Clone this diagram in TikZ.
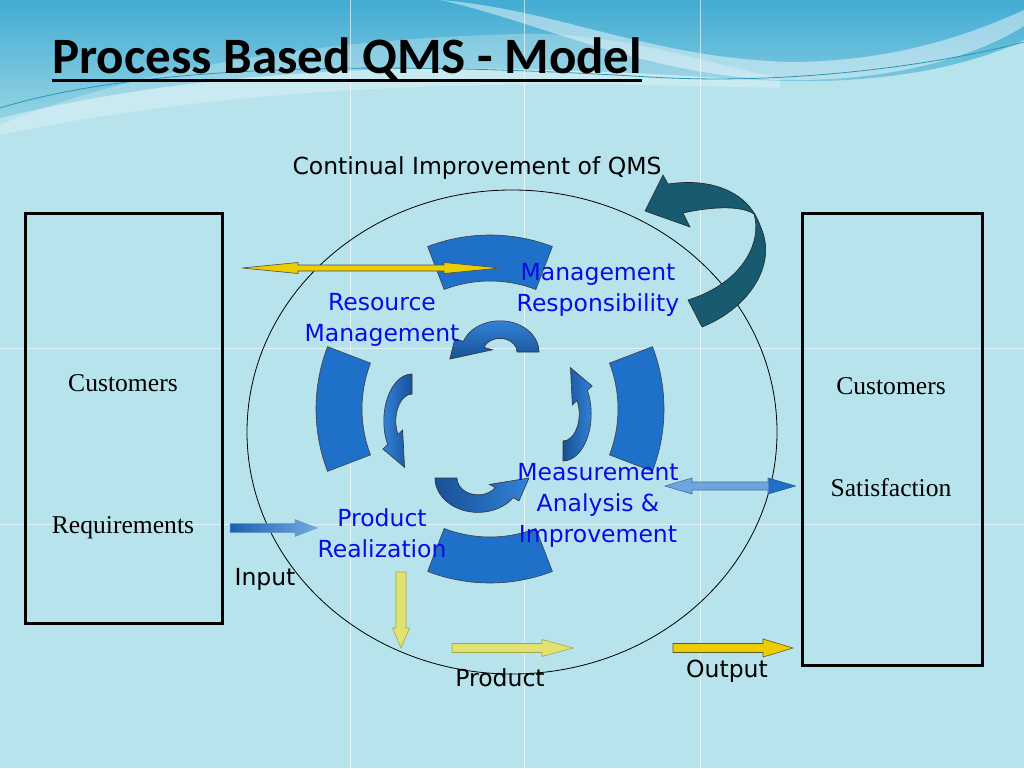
\documentclass[tikz,border=0pt]{standalone}
\usepackage{fontspec}
\setmainfont{Liberation Serif}
\newfontfamily\titlefont{Carlito}
\newfontfamily\comicfont{DejaVu Sans}
\usetikzlibrary{calc}
\definecolor{bgcyan}{RGB}{183,228,236}
\definecolor{topblue}{RGB}{66,172,210}
\definecolor{segblue}{RGB}{30,112,200}
\definecolor{arrblue}{RGB}{36,104,186}
\definecolor{arrdark}{RGB}{24,80,150}
\definecolor{arrlight}{RGB}{50,130,215}
\definecolor{hookteal}{RGB}{24,90,112}
\definecolor{goldarr}{RGB}{236,205,0}
\definecolor{paleyel}{RGB}{226,226,112}
\definecolor{txtblue}{RGB}{10,10,230}
\definecolor{lightarr}{RGB}{110,165,220}

% horizontal single block arrow: tail, tip, shaft half, head half, head length, style
\newcommand{\harrow}[6]{%
  \path[#6] ($(#1)+(0,-#3)$) -- ($(#2)+(-#5,-#3)$) -- ($(#2)+(-#5,-#4)$) -- (#2)
    -- ($(#2)+(-#5,#4)$) -- ($(#2)+(-#5,#3)$) -- ($(#1)+(0,#3)$) -- cycle;}
% horizontal double block arrow
\newcommand{\hdarrow}[6]{%
  \path[#6] (#1) -- ($(#1)+(#5,-#4)$) -- ($(#1)+(#5,-#3)$) -- ($(#2)+(-#5,-#3)$)
    -- ($(#2)+(-#5,-#4)$) -- (#2) -- ($(#2)+(-#5,#4)$) -- ($(#2)+(-#5,#3)$)
    -- ($(#1)+(#5,#3)$) -- ($(#1)+(#5,#4)$) -- cycle;}
% vertical (downward) block arrow
\newcommand{\varrow}[6]{%
  \path[#6] ($(#1)+(-#3,0)$) -- ($(#2)+(-#3,-#5)$) -- ($(#2)+(-#4,-#5)$) -- (#2)
    -- ($(#2)+(#4,-#5)$) -- ($(#2)+(#3,-#5)$) -- ($(#1)+(#3,0)$) -- cycle;}
% ring segment centred on angle #1
\newcommand{\ringseg}[1]{%
  \pgfmathsetmacro\segA{#1-21}\pgfmathsetmacro\segB{#1+21}%
  \path[seg] ($(ring)+(\segA:174)$) arc[start angle=\segA, end angle=\segB, radius=174]
    -- ($(ring)+(\segB:128)$) arc[start angle=\segB, end angle=\segA, radius=128] -- cycle;}
% small curved arrow: rm, hw, start, end, head half, tip angle, tip radius, extra style
\newcommand{\swirl}[8]{%
  \pgfmathsetmacro\swRo{#1+#2}\pgfmathsetmacro\swRi{#1-#2}%
  \pgfmathsetmacro\swHo{#1+#5}\pgfmathsetmacro\swHi{#1-#5}%
  \path[smallarr, #8] (#3:\swRo) arc[start angle=#3, end angle=#4, radius=\swRo]
    -- (#4:\swHo) -- (#6:#7) -- (#4:\swHi) -- (#4:\swRi)
    arc[start angle=#4, end angle=#3, radius=\swRi] -- cycle;}

\begin{document}
\begin{tikzpicture}[x=1pt,y=-1pt,
  comic/.style={font=\comicfont\fontsize{23.5}{31}\selectfont, inner sep=0, align=center},
  serif/.style={font=\fontsize{25.6}{30}\selectfont, inner sep=0},
  custbox/.style={draw=black, line width=3, inner sep=0},
  seg/.style={fill=segblue, draw=black!75, line width=0.6},
  smallarr/.style={draw=black!80, line width=0.6},
  seam/.style={white, opacity=0.6, line width=0.8}]
\useasboundingbox (0,0) rectangle (1024,768);
% background
\fill[bgcyan] (0,0) rectangle (1024,768);
\shade[top color=topblue, bottom color=bgcyan!70!topblue]
  (0,0) -- (1024,0) -- (1024,40) .. controls (950,75) and (850,85) .. (760,80)
  .. controls (600,72) and (300,45) .. (0,118) -- cycle;
\fill[white, opacity=0.45] (440,0) .. controls (560,10) and (650,58) .. (790,62)
  .. controls (900,62) and (980,30) .. (1024,10) -- (1024,26)
  .. controls (975,57) and (890,82) .. (780,80) .. controls (640,74) and (540,22) .. (440,0) -- cycle;
\fill[white, opacity=0.25] (0,125) .. controls (150,62) and (350,38) .. (520,34)
  .. controls (620,32) and (700,62) .. (780,78) -- (780,88)
  .. controls (600,84) and (300,72) .. (0,135) -- cycle;
\draw[color={rgb,255:red,40;green,150;blue,180}, line width=0.8]
  (0,108) .. controls (150,62) and (400,62) .. (650,77) .. controls (800,86) and (950,62) .. (1024,42);
\foreach \gx in {350,524,700} \draw[seam] (\gx,0) -- (\gx,768);
\foreach \gy in {348,524} \draw[seam] (0,\gy) -- (1024,\gy);

% title
\node[anchor=base west, inner sep=0, font=\titlefont\bfseries\fontsize{51}{60}\selectfont] (title) at (52,74) {Process Based QMS - Model};
\draw[line width=3] ($(title.base west)+(0,6)$) -- ($(title.base east)+(0,6)$);

% big circle
\coordinate (circ) at (512,432);
\draw[line width=0.8] (circ) ellipse [x radius=265, y radius=242];

% ring of segments
\coordinate (ring) at (490,409);
\ringseg{270}
\ringseg{0}
\ringseg{90}
\ringseg{180}

% yellow double arrow
\coordinate (ya) at (242,268);
\coordinate (yb) at (500,268);
\hdarrow{ya}{yb}{3}{5.5}{56}{fill=goldarr, draw=black!70, line width=0.6}

% small curved arrows
\begin{scope}[shift={(500,352)}, yscale=0.8]
  \swirl{28}{11}{0}{-160}{20}{-190}{51}{top color=arrlight, bottom color=arrdark}
\end{scope}
\begin{scope}[shift={(412,421)}, xscale=0.6]
  \swirl{37}{10}{-90}{-210}{19}{-255}{48}{left color=arrlight, right color=arrdark}
\end{scope}
\begin{scope}[shift={(563,414)}, xscale=0.6]
  \swirl{37}{10}{90}{-30}{19}{-75}{48}{left color=arrdark, right color=arrlight}
\end{scope}
\begin{scope}[shift={(478,478)}, yscale=0.8]
  \swirl{32}{11}{180}{35}{18}{0}{51}{left color=arrdark, right color=arrlight}
\end{scope}

% teal improvement arrow
\path[fill=hookteal, draw=black!85, line width=0.6]
  (702,327) .. controls (745,310) and (775,270) .. (763,233)
  .. controls (759,222) and (756,215) .. (752,210)
  .. controls (738,190) and (708,178) .. (668,184) -- (663,175) -- (645,211) -- (690,227)
  -- (683,213) .. controls (710,207) and (740,205) .. (754,214)
  .. controls (762,240) and (745,282) .. (688,300) -- cycle;

% right double arrow
\coordinate (ra) at (665,486);
\coordinate (rb) at (795,486);
\hdarrow{ra}{rb}{4}{8}{27}{fill=lightarr, draw={rgb,255:red,60;green,110;blue,170}, line width=0.6}
\path[fill=segblue, draw={rgb,255:red,40;green,90;blue,160}, line width=0.6] (rb) -- ($(rb)+(-26,-7.5)$) -- ($(rb)+(-26,7.5)$) -- cycle;

% input arrow
\coordinate (ia) at (230,528);
\coordinate (ib) at (317,528);
\harrow{ia}{ib}{4.5}{8.5}{22}{left color={rgb,255:red,30;green,95;blue,180}, right color={rgb,255:red,115;green,170;blue,225}, draw={rgb,255:red,100;green,150;blue,200}, line width=0.5}

% product arrows
\coordinate (da) at (401,572);
\coordinate (db) at (401,648);
\varrow{da}{db}{5}{8.5}{20}{fill=paleyel, draw={rgb,255:red,165;green,165;blue,80}, line width=0.6}
\coordinate (pa) at (452,648);
\coordinate (pb) at (573,648);
\harrow{pa}{pb}{4.5}{8.5}{31}{fill=paleyel, draw={rgb,255:red,165;green,165;blue,80}, line width=0.6}
\coordinate (oa) at (673,648);
\coordinate (ob) at (793,648);
\harrow{oa}{ob}{4.5}{9}{30}{fill=goldarr, draw={rgb,255:red,100;green,90;blue,30}, line width=0.6}

% boxes
\node[custbox, minimum width=197, minimum height=410] (leftbox) at (123.5,418) {};
\node[custbox, minimum width=180, minimum height=452] (rightbox) at (892,439) {};
\node[serif] (lc) at (123,383) {Customers};
\node[serif] (lr) at (123,528) {Requirements};
\node[serif] (rc) at (891,386) {Customers};
\node[serif] (rs) at (891,488) {Satisfaction};

% texts
\node[comic, text=black] (cont) at (477,168) {Continual Improvement of QMS};
\node[comic, text=txtblue] (mr) at (598,290) {Management\\Responsibility};
\node[comic, text=txtblue] (rm) at (382,320) {Resource\\Management};
\node[comic, text=txtblue] (mai) at (598,505) {Measurement\\Analysis \&\\Improvement};
\node[comic, text=txtblue] (pr) at (382,533) {Product\\Realization};
\node[comic, text=black] (inp) at (265,579) {Input};
\node[comic, text=black] (prod) at (500,678) {Product};
\node[comic, text=black] (outp) at (727,671) {Output};
\end{tikzpicture}
\end{document}
